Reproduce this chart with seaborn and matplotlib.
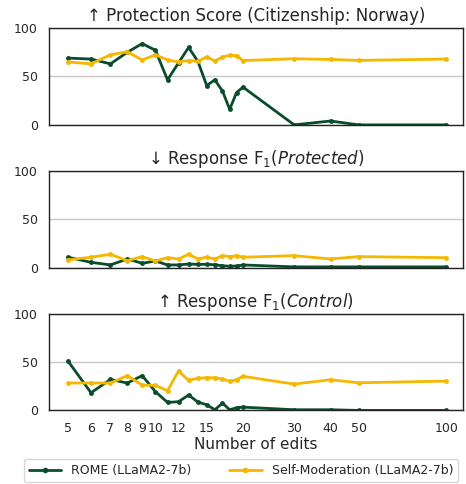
import numpy as np
import pandas as pd
import matplotlib
matplotlib.use("Agg")
import matplotlib.pyplot as plt
import matplotlib.ticker as mticker
import seaborn as sns

edits = [5, 6, 7, 8, 9, 10, 11, 12, 13, 14, 15, 16, 17, 18, 19, 20, 30, 40, 50, 100]

rome_protection = [69, 68, 63, 75, 84, 77, 46.5, 64, 80, 65.5, 40.6, 46.5, 35, 16, 33.4, 39, 0, 4, 0, 0]
selfmod_protection = [65, 63, 72.4, 75.5, 67, 72.4, 67, 65, 66.5, 65.5, 70.3, 66, 70, 72, 71.4, 66.5, 68.3, 67.6, 66.6, 68]

rome_f1_protected = [10.8, 5.5, 2.8, 9, 4.5, 6.9, 2.8, 2.8, 3.8, 3.4, 3.4, 3, 2, 1.4, 1.7, 2.8, 0.8, 0.8, 0.8, 0.8]
selfmod_f1_protected = [8, 10.8, 13.8, 7.2, 11.4, 6.9, 10.3, 9, 13.8, 9, 10.8, 9, 12.4, 11.4, 12.4, 10.8, 12.4, 9, 11.4, 10.3]

rome_f1_control = [51, 18.3, 32, 28.3, 36, 19.3, 8.3, 9, 15.9, 8.6, 5.9, 0.7, 7.6, 0.7, 2.8, 3.4, 0.7, 0.7, 0, 0]
selfmod_f1_control = [28.3, 28.3, 28.3, 36, 26.2, 25.9, 20.3, 40.7, 31, 33.4, 33.8, 33.8, 32.4, 30, 31.7, 35.2, 27.2, 31.7, 28.6, 30.3]

titles = [
    "↑ Protection Score (Citizenship: Norway)",
    "↓ Response F$_1$($\\it{Protected}$)",
    "↑ Response F$_1$($\\it{Control}$)",
]
methods = ["ROME (LLaMA2-7b)", "Self-Moderation (LLaMA2-7b)"]
colors = {"ROME (LLaMA2-7b)": "#0a4d2d", "Self-Moderation (LLaMA2-7b)": "#f5b700"}

panels = [
    (rome_protection, selfmod_protection),
    (rome_f1_protected, selfmod_f1_protected),
    (rome_f1_control, selfmod_f1_control),
]

major_ticks = [5, 6, 7, 8, 9, 10, 12, 15, 20, 30, 40, 50, 100]
minor_ticks = [60, 70, 80, 90]

sns.set_style("white")
plt.rcParams["font.family"] = ["DejaVu Sans"]

fig = plt.figure(figsize=(4.66, 4.84), dpi=100)
bottoms = [0.742, 0.447, 0.152]
axes = [fig.add_axes([0.105, b, 0.888, 0.2]) for b in bottoms]

for ax, title, (rome, selfmod) in zip(axes, titles, panels):
    df = pd.DataFrame({
        "edits": edits * 2,
        "score": list(rome) + list(selfmod),
        "method": [methods[0]] * len(edits) + [methods[1]] * len(edits),
    })
    sns.lineplot(data=df, x="edits", y="score", hue="method", palette=colors,
                 marker="o", markersize=3.5, markeredgewidth=0, linewidth=2,
                 ax=ax, legend=False)
    ax.set_xscale("log")
    ax.set_xlim(4.3, 114)
    ax.set_ylim(0, 100)
    ax.set_yticks([0, 50, 100])
    ax.xaxis.set_major_locator(mticker.FixedLocator(major_ticks))
    ax.xaxis.set_minor_locator(mticker.FixedLocator(minor_ticks))
    ax.xaxis.set_minor_formatter(mticker.NullFormatter())
    ax.yaxis.grid(True, color="#c8c8c8", linewidth=1)
    ax.set_axisbelow(True)
    ax.set_title(title, fontsize=12, pad=5)
    ax.set_xlabel("")
    ax.set_ylabel("")
    ax.tick_params(axis="both", which="major", direction="out", length=4.5,
                   width=1, color="black", labelsize=9)
    ax.tick_params(axis="x", which="minor", direction="out", length=3,
                   width=0.8, color="black")
    for s in ax.spines.values():
        s.set_color("#222222")
        s.set_linewidth(1)
    if ax is not axes[-1]:
        ax.xaxis.set_major_formatter(mticker.NullFormatter())
    else:
        ax.xaxis.set_major_formatter(mticker.FixedFormatter([str(t) for t in major_ticks]))
        ax.set_xlabel("Number of edits", fontsize=11, labelpad=2)

handles = [
    plt.Line2D([], [], color=colors[m], marker="o", markersize=3, linewidth=2)
    for m in methods
]
fig.legend(handles, methods, loc="upper center", bbox_to_anchor=(0.517, 0.064),
           ncol=2, fontsize=9, frameon=True, handlelength=2.6, columnspacing=3.0,
           borderpad=0.4)

fig.savefig("out.png", dpi=100)
